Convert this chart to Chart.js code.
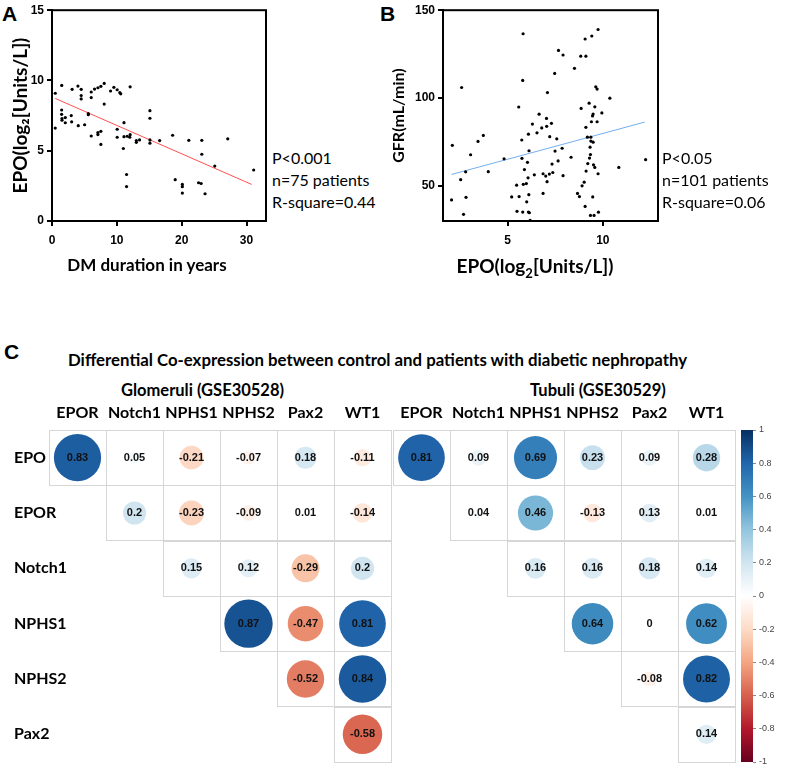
<!DOCTYPE html>
<html>
<head>
<meta charset="utf-8">
<script src="https://cdn.jsdelivr.net/npm/chart.js@4/dist/chart.umd.min.js"></script>
<style>
  body { margin: 0; background: #fff; }
  #page { position: relative; width: 787px; height: 781px; overflow: hidden; font-family: Lato, "Open Sans", sans-serif; color: #000; }
  .abs { position: absolute; white-space: nowrap; }
  .panel { font-family: "Liberation Sans", Arial, sans-serif; font-weight: bold; font-size: 21px; line-height: 24px; }
  .stat { font-size: 16px; line-height: 22px; }
  .head { font-weight: bold; }
  .xtitle { font-weight: bold; font-size: 19px; line-height: 22px; text-align: center; width: 240px; }
  .xtitle sub { font-size: 13px; line-height: 0; }
</style>
</head>
<body>
<div id="page">
  <div class="abs panel" style="left:2px; top:2px">A</div>
  <div class="abs panel" style="left:380px; top:2px">B</div>
  <div class="abs panel" style="left:4px; top:340px">C</div>

  <canvas id="chartA" class="abs" width="270" height="275" style="left:0; top:0"></canvas>
  <canvas id="chartB" class="abs" width="280" height="275" style="left:385px; top:0"></canvas>
  <div class="abs xtitle" style="left:27px; top:254px; font-size:17px">DM duration in years</div>
  <div class="abs xtitle" style="left:415px; top:255px">EPO(log<sub>2</sub>[Units/L])</div>

  <div class="abs stat" style="left:272px; top:147px">P&lt;0.001<br>n=75 patients<br>R-square=0.44</div>
  <div class="abs stat" style="left:662px; top:147px">P&lt;0.05<br>n=101 patients<br>R-square=0.06</div>

  <div class="abs head" style="left:68px; top:349px; font-size:16.8px">Differential Co-expression between control and patients with diabetic nephropathy</div>
  <div class="abs head" style="left:121px; top:380px; font-size:16.5px">Glomeruli (GSE30528)</div>
  <div class="abs head" style="left:530px; top:380px; font-size:16.5px">Tubuli (GSE30529)</div>

  <canvas id="glom" class="abs" width="393" height="406" style="left:0; top:375px"></canvas>
  <canvas id="tubuli" class="abs" width="345" height="406" style="left:392px; top:375px"></canvas>
  <canvas id="colorbar" class="abs" width="51" height="406" style="left:736px; top:375px"></canvas>
</div>

<script>
// Panel A: EPO vs diabetes duration
const aDuration = [0.5, 0.5, 1.5, 1.49, 1.49, 1.54, 1.54, 2.05, 2.05, 2.97, 3.03, 3.1, 4.0, 4.5, 4.5, 4.5, 4.05, 5.03, 5.6, 5.6,
    6.05, 6.05, 6.05, 6.56, 7.08, 7.54, 8.05, 8.05, 7.08, 7.08, 7.54, 7.54, 9.03, 9.54, 10.05, 10.46, 10.6, 10.05, 10.05, 12.05,
    11.1, 11.1, 11.0, 11.6, 11.5, 11.5, 12.05, 12.0, 13.0, 13.0, 13.5, 15.1, 15.1, 15.1, 15.1, 16.6, 18.6, 19.0, 20.1, 20.1,
    20.1, 21.1, 22.6, 23.0, 23.1, 23.1, 23.6, 25.1, 27.1, 31.1];
const aEpo = [9.09, 6.61, 9.65, 7.90, 7.59, 7.29, 7.17, 7.36, 6.99, 7.5, 7.06, 9.37, 9.6, 9.37, 8.93, 8.69, 6.78, 6.85, 7.64, 7.56,
    9.18, 8.78, 6.05, 9.39, 9.48, 9.58, 9.79, 8.32, 6.29, 6.15, 6.38, 5.45, 9.25, 9.51, 9.34, 9.13, 9.05, 5.96, 6.53, 9.55,
    7.0, 6.0, 5.16, 6.03, 3.31, 2.45, 6.14, 5.96, 5.72, 5.6, 5.77, 7.85, 7.31, 5.77, 5.54, 5.72, 6.1, 2.94, 2.6, 2.44,
    1.99, 5.74, 2.72, 2.67, 5.74, 4.75, 1.94, 3.91, 5.85, 3.63];
const aFitX = [0.5, 30.8];
const aFitY = [8.72, 2.6];
const aTicksX = [0, 10, 20, 30];
const aTicksY = [0, 5, 10, 15];

// Panel B: GFR vs EPO
const bEpo = [2.09, 2.58, 3.05, 3.44, 3.72, 2.53, 2.79, 3.98, 4.81, 2.05, 2.81, 2.68,
    5.81, 5.79, 5.58, 5.74, 6.09, 6.12, 5.75, 6.04, 5.88, 6.07, 5.98, 5.82, 5.47, 6.11, 5.60, 5.21, 6.0, 5.49, 5.79, 6.09, 6.14, 6.18,
    6.65, 6.30, 6.54, 6.79, 7.04, 7.30, 7.05, 7.21, 7.33, 6.40, 6.86, 7.0, 7.19, 7.37, 7.07, 6.86, 7.09, 7.47,
    9.75, 9.42, 9.07, 7.67, 7.91, 8.84, 9.11, 8.51, 9.63, 9.70, 10.37, 9.28, 8.86, 9.58, 9.95, 9.49, 9.46, 9.40, 9.70, 9.11,
    7.58, 9.19, 9.37, 9.37, 9.49, 9.33, 7.49, 7.86, 9.35, 8.33, 9.30, 7.65, 9.21, 9.51, 9.58, 10.84, 12.25, 9.12, 9.75, 7.91,
    9.02, 8.91, 8.67, 8.77, 9.47, 9.07, 9.35, 9.54, 9.77];
const bGfr = [73.1, 106.0, 67.7, 75.3, 78.7, 53.5, 58.0, 58.1, 65.4, 42.0, 43.5, 33.8,
    136.6, 110.0, 94.9, 76.1, 79.4, 70.0, 65.7, 63.4, 59.3, 54.6, 51.3, 50.9, 50.4, 45.0, 43.9, 43.7, 40.9, 35.5, 35.1, 35.1, 34.7, 30.4,
    90.8, 85.2, 80.2, 83.0, 88.4, 85.6, 83.9, 78.0, 62.4, 56.3, 56.9, 55.6, 56.7, 57.6, 52.4, 45.7, 103.1, 114.0,
    139.0, 135.3, 133.6, 127.1, 124.5, 123.8, 123.8, 116.9, 106.4, 105.1, 99.9, 97.1, 94.1, 95.0, 91.5, 90.9, 89.8, 86.5, 86.5, 83.3,
    76.8, 77.7, 77.7, 75.5, 74.9, 72.0, 69.8, 71.4, 67.8, 66.3, 65.8, 64.2, 62.7, 62.0, 60.5, 60.5, 64.9, 58.4, 56.9, 55.8,
    52.1, 50.0, 45.7, 43.9, 43.7, 38.3, 33.2, 33.2, 35.0];
const bFitX = [2.05, 12.2];
const bFitY = [56.5, 86.3];
const bTicksX = [5, 10];
const bTicksY = [50, 100, 150];

// Panel C: correlation matrices (upper triangle, null = empty cell)
const rowGenes = ['EPO', 'EPOR', 'Notch1', 'NPHS1', 'NPHS2', 'Pax2'];
const colGenes = ['EPOR', 'Notch1', 'NPHS1', 'NPHS2', 'Pax2', 'WT1'];
const glomEPO    = [0.83, 0.05, -0.21, -0.07, 0.18, -0.11];
const glomEPOR   = [null, 0.2, -0.23, -0.09, 0.01, -0.14];
const glomNotch1 = [null, null, 0.15, 0.12, -0.29, 0.2];
const glomNPHS1  = [null, null, null, 0.87, -0.47, 0.81];
const glomNPHS2  = [null, null, null, null, -0.52, 0.84];
const glomPax2   = [null, null, null, null, null, -0.58];
const tubEPO     = [0.81, 0.09, 0.69, 0.23, 0.09, 0.28];
const tubEPOR    = [null, 0.04, 0.46, -0.13, 0.13, 0.01];
const tubNotch1  = [null, null, 0.16, 0.16, 0.18, 0.14];
const tubNPHS1   = [null, null, null, 0.64, 0, 0.62];
const tubNPHS2   = [null, null, null, null, -0.08, 0.82];
const tubPax2    = [null, null, null, null, null, 0.14];
const colorbarTicks = [1, 0.8, 0.6, 0.4, 0.2, 0, -0.2, -0.4, -0.6, -0.8, -1];

// RdBu palette from -1 to 1
const rdbu = ['#67001F', '#B2182B', '#D6604D', '#F4A582', '#FDDBC7', '#FFFFFF', '#D1E5F0', '#92C5DE', '#4393C3', '#2166AC', '#053061'];

function hexToRgb(h) {
    return [parseInt(h.slice(1, 3), 16), parseInt(h.slice(3, 5), 16), parseInt(h.slice(5, 7), 16)];
}

function corrColor(v) {
    const pos = (v + 1) / 2 * (rdbu.length - 1);
    const i = Math.min(Math.floor(pos), rdbu.length - 2);
    const t = pos - i;
    const a = hexToRgb(rdbu[i]);
    const b = hexToRgb(rdbu[i + 1]);
    const c = a.map((x, k) => Math.round(x + (b[k] - x) * t));
    return `rgb(${c[0]}, ${c[1]}, ${c[2]})`;
}

Chart.defaults.animation = false;
Chart.defaults.events = [];
Chart.defaults.plugins.legend.display = false;
Chart.defaults.plugins.tooltip.enabled = false;

const boxPlugin = {
    id: 'box',
    afterDraw(chart) {
        const { ctx, chartArea: a } = chart;
        ctx.save();
        ctx.strokeStyle = '#000';
        ctx.lineWidth = 2;
        ctx.strokeRect(a.left, a.top, a.right - a.left, a.bottom - a.top);
        ctx.restore();
    }
};

function toPoints(xs, ys) {
    return xs.map((x, i) => ({ x: x, y: ys[i] }));
}

function scatterPanel(id, cfg) {
    const tickFont = { family: '"Liberation Sans", Arial, sans-serif', weight: 'bold', size: 12 };
    return new Chart(document.getElementById(id), {
        type: 'scatter',
        data: {
            datasets: [{
                data: toPoints(cfg.xs, cfg.ys),
                pointRadius: 1.6,
                pointBackgroundColor: '#000',
                pointBorderWidth: 0
            }, {
                type: 'line',
                data: toPoints(cfg.fitX, cfg.fitY),
                borderColor: cfg.fitColor,
                borderWidth: 1,
                pointRadius: 0
            }]
        },
        options: {
            responsive: false,
            layout: { padding: { top: 7, right: cfg.padRight, left: 0, bottom: 0 } },
            scales: {
                x: {
                    type: 'linear',
                    min: cfg.xMin,
                    max: cfg.xMax,
                    afterBuildTicks: (s) => { s.ticks = cfg.ticksX.map(v => ({ value: v })); },
                    afterFit: (s) => { s.height = 54; },
                    grid: { drawOnChartArea: false, drawTicks: true, tickLength: 5, color: '#000', lineWidth: 2 },
                    border: { display: true, color: '#000', width: 2 },
                    ticks: { font: tickFont, color: '#000', padding: 7, maxRotation: 0 }
                },
                y: {
                    type: 'linear',
                    min: cfg.yMin,
                    max: cfg.yMax,
                    afterBuildTicks: (s) => { s.ticks = cfg.ticksY.map(v => ({ value: v })); },
                    afterFit: (s) => { s.width = cfg.yWidth; },
                    grid: { drawOnChartArea: false, drawTicks: true, tickLength: 5, color: '#000', lineWidth: 2 },
                    border: { display: true, color: '#000', width: 2 },
                    ticks: { font: tickFont, color: '#000', padding: 3 },
                    title: {
                        display: true, text: cfg.yTitle, color: '#000',
                        font: { family: 'Lato, sans-serif', weight: 'bold', size: cfg.yTitleSize },
                        padding: { top: cfg.yTitlePad, bottom: 0 }
                    }
                }
            }
        },
        plugins: [boxPlugin]
    });
}

scatterPanel('chartA', {
    xs: aDuration, ys: aEpo, fitX: aFitX, fitY: aFitY, fitColor: '#ff5050',
    xMin: 0, xMax: 33, yMin: 0, yMax: 15, ticksX: aTicksX, ticksY: aTicksY,
    yTitle: 'EPO(log\u2082[Units/L])', yTitleSize: 19,
    yWidth: 52, padRight: 3, yTitlePad: 9
});

scatterPanel('chartB', {
    xs: bEpo, ys: bGfr, fitX: bFitX, fitY: bFitY, fitColor: '#74aef0',
    xMin: 1.6, xMax: 12.9, yMin: 30, yMax: 150, ticksX: bTicksX, ticksY: bTicksY,
    yTitle: 'GFR(mL/min)', yTitleSize: 16,
    yWidth: 58, padRight: 7, yTitlePad: 4
});

// cell borders and value labels for the correlation plots
const cellPlugin = {
    id: 'cells',
    beforeDatasetsDraw(chart) {
        const { ctx, scales: { x, y } } = chart;
        ctx.save();
        ctx.strokeStyle = '#d6d6d6';
        ctx.lineWidth = 1;
        chart.data.datasets[0].data.forEach(p => {
            const x0 = x.getPixelForValue(p.x - 0.5), x1 = x.getPixelForValue(p.x + 0.5);
            const y0 = y.getPixelForValue(p.y - 0.5), y1 = y.getPixelForValue(p.y + 0.5);
            ctx.strokeRect(Math.round(x0) + 0.5, Math.round(y0) + 0.5, Math.round(x1 - x0), Math.round(y1 - y0));
        });
        ctx.restore();
    },
    afterDatasetsDraw(chart) {
        const { ctx } = chart;
        const meta = chart.getDatasetMeta(0);
        ctx.save();
        ctx.font = 'bold 11px "Liberation Sans", Arial, sans-serif';
        ctx.fillStyle = '#111';
        ctx.textAlign = 'center';
        ctx.textBaseline = 'middle';
        meta.data.forEach((el, i) => {
            const p = chart.data.datasets[0].data[i];
            ctx.fillText(String(p.v), el.x, el.y);
        });
        ctx.restore();
    }
};

function matrixPoints(rows) {
    const pts = [];
    rows.forEach((row, i) => {
        row.forEach((v, j) => {
            if (v !== null) pts.push({ x: j, y: i, v: v });
        });
    });
    return pts;
}

function corrPlot(id, rows, showRows, pad) {
    const labelFont = { family: 'Lato, sans-serif', weight: 'bold', size: 16 };
    const points = matrixPoints(rows);
    const chart = new Chart(document.getElementById(id), {
        type: 'bubble',
        data: {
            datasets: [{
                data: points,
                backgroundColor: points.map(p => corrColor(p.v)),
                borderWidth: 0,
                pointStyle: 'circle'
            }]
        },
        options: {
            responsive: false,
            layout: { padding: pad, autoPadding: false },
            scales: {
                x: {
                    type: 'linear',
                    position: 'top',
                    min: -0.5,
                    max: 5.5,
                    afterBuildTicks: (s) => { s.ticks = colGenes.map((_, i) => ({ value: i })); },
                    afterFit: (s) => { s.height = 55; },
                    grid: { display: false },
                    border: { display: false },
                    ticks: { font: labelFont, color: '#000', padding: 0, autoSkip: false, maxRotation: 0,
                        callback: (v, i) => colGenes[i] }
                },
                y: {
                    type: 'linear',
                    display: showRows,
                    reverse: true,
                    min: -0.5,
                    max: 5.5,
                    afterBuildTicks: (s) => { s.ticks = rowGenes.map((_, i) => ({ value: i })); },
                    afterFit: (s) => { s.width = showRows ? 49 : 0; },
                    grid: { display: false },
                    border: { display: false },
                    // mirrored so the labels are not clipped to the axis box
                    ticks: { font: labelFont, color: '#000', mirror: true, crossAlign: 'near', padding: -35,
                        autoSkip: false, callback: (v, i) => rowGenes[i] }
                }
            }
        },
        plugins: [cellPlugin]
    });
    // circle radius grows with sqrt(|r|), sized to the cell width
    const s = chart.scales.x;
    const cw = Math.abs(s.getPixelForValue(1) - s.getPixelForValue(0));
    points.forEach(p => { p.r = Math.sqrt(Math.abs(p.v)) * cw * 0.455; });
    chart.update();
    return chart;
}

corrPlot('glom', [glomEPO, glomEPOR, glomNotch1, glomNPHS1, glomNPHS2, glomPax2], true,
    { left: 0, right: 2, top: 0, bottom: 19 });
corrPlot('tubuli', [tubEPO, tubEPOR, tubNotch1, tubNPHS1, tubNPHS2, tubPax2], false,
    { left: 1, right: 2, top: 0, bottom: 19 });

// colour key
new Chart(document.getElementById('colorbar'), {
    type: 'bar',
    data: {
        labels: [''],
        datasets: [{
            data: [[-1, 1]],
            barPercentage: 1,
            categoryPercentage: 1,
            backgroundColor: (c) => {
                const area = c.chart.chartArea;
                if (!area) return '#ccc';
                const g = c.chart.ctx.createLinearGradient(0, area.bottom, 0, area.top);
                rdbu.forEach((col, i) => g.addColorStop(i / (rdbu.length - 1), col));
                return g;
            }
        }]
    },
    options: {
        responsive: false,
        layout: { padding: { left: 5, right: 0, top: 55, bottom: 19 } },
        scales: {
            x: { display: false },
            y: {
                position: 'right',
                min: -1,
                max: 1,
                afterBuildTicks: (s) => { s.ticks = colorbarTicks.map(v => ({ value: v })); },
                afterFit: (s) => { s.width = 34; },
                grid: { drawOnChartArea: false, drawTicks: true, tickLength: 3, color: '#888', lineWidth: 1 },
                border: { display: false },
                ticks: { font: { family: '"Liberation Sans", Arial, sans-serif', size: 9 }, color: '#444', padding: 3,
                    callback: (v) => String(v) }
            }
        }
    }
});
</script>
</body>
</html>
